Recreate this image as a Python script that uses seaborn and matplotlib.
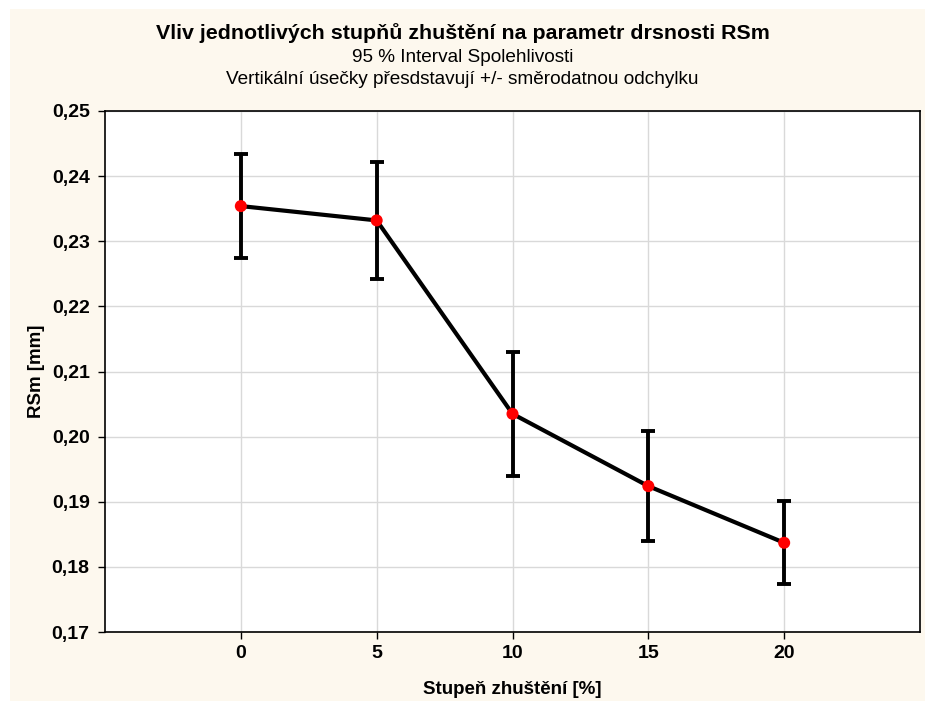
import matplotlib
matplotlib.use("Agg")
import matplotlib.pyplot as plt
from matplotlib.patches import Rectangle
from matplotlib.ticker import FuncFormatter
import numpy as np
import pandas as pd
import seaborn as sns

# Compaction levels and measured RSm (mean, standard deviation)
stupen = [0, 5, 10, 15, 20]
rsm_mean = [0.2354, 0.2332, 0.2035, 0.1924, 0.1837]
rsm_sd = [0.0080, 0.0090, 0.0095, 0.0084, 0.0064]
y_ticks = [0.17, 0.18, 0.19, 0.20, 0.21, 0.22, 0.23, 0.24, 0.25]

df = pd.DataFrame({"stupen": stupen, "rsm": rsm_mean, "sd": rsm_sd})

sns.set_theme(style="whitegrid")
plt.rcParams["font.family"] = ["Liberation Sans", "DejaVu Sans"]
plt.rcParams["text.color"] = "black"
plt.rcParams["axes.labelcolor"] = "black"
plt.rcParams["xtick.color"] = "black"
plt.rcParams["ytick.color"] = "black"

fig = plt.figure(figsize=(9.25, 7.01), dpi=100)
fig.patch.set_facecolor("white")
panel = Rectangle((10 / 925, 0), 1 - 10 / 925, 1 - 9 / 701,
                  transform=fig.transFigure, facecolor="#fdf8ee",
                  edgecolor="none", zorder=-10)
fig.add_artist(panel)

ax = fig.add_axes([105 / 925, 1 - 632 / 701, (920 - 105) / 925, (632 - 111) / 701])
ax.set_zorder(1)
ax.set_facecolor("white")

# Standard deviation whiskers
ax.errorbar(df["stupen"], df["rsm"], yerr=df["sd"], fmt="none", ecolor="black",
            elinewidth=2.8, capsize=5, capthick=2.8, zorder=2)

# Mean line with red points
sns.lineplot(data=df, x="stupen", y="rsm", ax=ax, color="black", linewidth=3.0,
             zorder=3, legend=False)
sns.scatterplot(data=df, x="stupen", y="rsm", ax=ax, color="red", s=75,
                edgecolor="none", zorder=4, legend=False)

ax.set_xlim(-5, 25)
ax.set_ylim(0.17, 0.25)
ax.set_xticks(stupen)
ax.set_yticks(y_ticks)
ax.yaxis.set_major_formatter(FuncFormatter(lambda v, p: f"{v:.2f}".replace(".", ",")))

ax.grid(True, color="#d9d9d9", linewidth=1.0)
for s in ax.spines.values():
    s.set_color("black")
    s.set_linewidth(1.2)
ax.tick_params(axis="both", which="major", length=5, width=1, color="black",
               labelsize=14, pad=4, direction="out", bottom=True, left=True)
ax.tick_params(axis="y", pad=6)
for lab in ax.get_xticklabels() + ax.get_yticklabels():
    lab.set_fontweight("bold")

ax.set_xlabel("Stupeň zhuštění [%]", fontsize=13.5, fontweight="bold", labelpad=14)
ax.set_ylabel("RSm [mm]", fontsize=13.5, fontweight="bold", labelpad=5)

fig.text(0.5, 1 - 33 / 701, "Vliv jednotlivých stupňů zhuštění na parametr drsnosti RSm",
         ha="center", va="center", fontsize=15.4, fontweight="bold")
fig.text(0.5, 1 - 57 / 701, "95 % Interval Spolehlivosti", ha="center", va="center",
         fontsize=13.7)
fig.text(0.5, 1 - 80 / 701, "Vertikální úsečky přesdstavují +/- směrodatnou odchylku",
         ha="center", va="center", fontsize=13.7)

fig.savefig("out.png", dpi=100, facecolor=fig.get_facecolor())
